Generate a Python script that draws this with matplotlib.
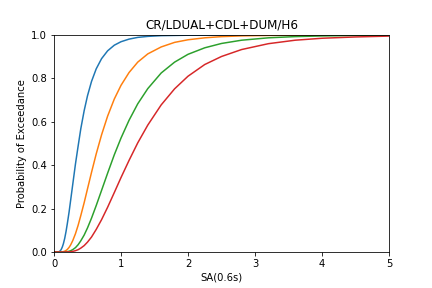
import numpy as np
import matplotlib
matplotlib.use("Agg")
import matplotlib.pyplot as plt

# SA levels (g)
sa = [0.01, 0.05, 0.06, 0.07, 0.08, 0.09, 0.10, 0.11, 0.125, 0.14, 0.16, 0.18, 0.20,
      0.225, 0.25, 0.28, 0.32, 0.36, 0.40, 0.45, 0.50, 0.56, 0.63, 0.71, 0.80, 0.90,
      1.0, 1.12, 1.25, 1.4, 1.6, 1.8, 2.0, 2.25, 2.5, 2.8, 3.2, 3.6, 4.0, 4.5, 5.0]

# probability of exceedance for each damage state
ds1 = [0.0, 0.0001, 0.0004, 0.0011, 0.0025, 0.0048, 0.0082, 0.0132, 0.0238, 0.038, 0.063,
       0.095, 0.133, 0.184, 0.242, 0.312, 0.405, 0.488, 0.568, 0.651, 0.720, 0.786, 0.844,
       0.891, 0.927, 0.953, 0.969, 0.981, 0.989, 0.9936, 0.997, 0.998, 0.999, 0.9995,
       0.9998, 0.9999, 1.0, 1.0, 1.0, 1.0, 1.0]
ds2 = [0.0, 0.0, 0.0, 0.0, 0.0, 0.0001, 0.0002, 0.0004, 0.0009, 0.0018, 0.0039, 0.0073,
       0.0122, 0.0212, 0.0336, 0.0526, 0.084, 0.123, 0.168, 0.227, 0.291, 0.367, 0.452,
       0.540, 0.626, 0.705, 0.768, 0.827, 0.875, 0.913, 0.945, 0.966, 0.978, 0.987,
       0.9925, 0.9959, 0.998, 0.999, 0.9995, 0.9998, 0.9999]
ds3 = [0.0, 0.0, 0.0, 0.0, 0.0, 0.0, 0.0, 0.0, 0.0, 0.0001, 0.0004, 0.0009, 0.0018,
       0.0035, 0.0062, 0.011, 0.020, 0.0336, 0.0516, 0.078, 0.111, 0.156, 0.214, 0.284,
       0.363, 0.448, 0.525, 0.607, 0.683, 0.753, 0.825, 0.875, 0.911, 0.941, 0.961,
       0.976, 0.987, 0.9926, 0.9957, 0.9978, 0.9988]
ds4 = [0.0, 0.0, 0.0, 0.0, 0.0, 0.0, 0.0, 0.0, 0.0, 0.0, 0.0001, 0.0002, 0.0004,
       0.0008, 0.0015, 0.0029, 0.006, 0.0107, 0.0179, 0.0294, 0.0455, 0.069, 0.104,
       0.149, 0.206, 0.274, 0.343, 0.422, 0.503, 0.585, 0.678, 0.752, 0.810, 0.864,
       0.901, 0.933, 0.960, 0.976, 0.985, 0.991, 0.995]

fig = plt.figure(figsize=(6, 4), dpi=72)
ax = fig.add_axes([54 / 432, 36 / 288, 335 / 432, 217 / 288])
for ds in [ds1, ds2, ds3, ds4]:
    ax.plot(sa, ds)
ax.set_xlim(0, 5)
ax.set_ylim(0, 1)
ax.set_title('CR/LDUAL+CDL+DUM/H6')
ax.set_xlabel('SA(0.6s)')
ax.set_ylabel('Probability of Exceedance')
fig.savefig('out.png', dpi=72)
